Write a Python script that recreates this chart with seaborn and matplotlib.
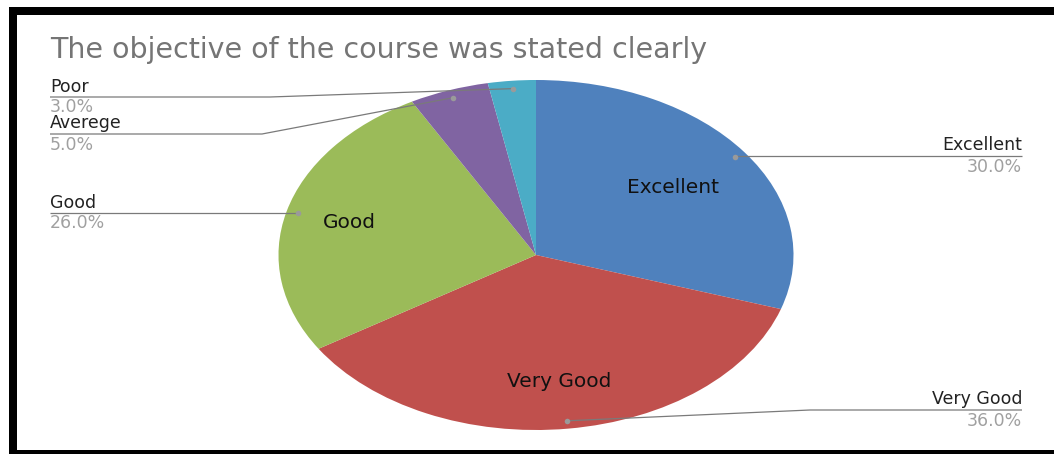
import numpy as np
import matplotlib
matplotlib.use("Agg")
import matplotlib.pyplot as plt
from matplotlib.patches import Rectangle
import seaborn as sns

# Survey answers and their shares (%)
categories = ["Excellent", "Very Good", "Good", "Averege", "Poor"]
shares = [30.0, 36.0, 26.0, 5.0, 3.0]
inside_labels = ["Excellent", "Very Good", "Good"]
title = "The objective of the course was stated clearly"

sns.set_theme(style="white")
plt.rcParams["font.family"] = ["DejaVu Sans"]
colors = sns.color_palette(["#4F81BD", "#C0504D", "#9BBB59", "#8064A2", "#4BACC6"])

W, H = 1054, 454
fig = plt.figure(figsize=(W / 100, H / 100), dpi=100)
fig.patch.set_facecolor("white")

# Pie geometry in pixels (stretched ellipse)
cx, cy, rx, ry = 536, 255, 257.5, 175
pie_ax = fig.add_axes([(cx - rx) / W, (H - (cy + ry)) / H, 2 * rx / W, 2 * ry / H])
pie_ax.pie(shares, colors=colors, startangle=90, counterclock=False,
           wedgeprops=dict(linewidth=0))
pie_ax.set_aspect("auto")
pie_ax.set_xlim(-1, 1)
pie_ax.set_ylim(-1, 1)
pie_ax.axis("off")

# Overlay in pixel coordinates for frame, title and callouts
ov = fig.add_axes([0, 0, 1, 1], zorder=5)
ov.set_xlim(0, W)
ov.set_ylim(H, 0)
ov.axis("off")
ov.patch.set_alpha(0)

# Black frame
ov.add_patch(Rectangle((9, 7), 8, H - 7, color="black", lw=0))
ov.add_patch(Rectangle((9, 7), W - 9, 8, color="black", lw=0))
ov.add_patch(Rectangle((9, 450), W - 9, 4, color="black", lw=0))

ov.text(50, 50, title, fontsize=20.5, color="#757575", ha="left", va="center")

total = sum(shares)
cum = np.cumsum([0] + shares[:-1])
mid = {c: np.deg2rad(360 * (s0 + v / 2) / total) for c, s0, v in zip(categories, cum, shares)}


def on_pie(cat, f):
    t = mid[cat]
    return cx + f * rx * np.sin(t), cy - f * ry * np.cos(t)


# Labels inside the large slices
inside_dist = {"Excellent": 0.66, "Very Good": 0.73, "Good": 0.75}
for cat in inside_labels:
    x, y = on_pie(cat, inside_dist[cat])
    ov.text(x, y, cat, fontsize=14.5, color="#111111", ha="center", va="center")

# Callout layout: side, text anchor x, line y, elbow x
callouts = {
    "Excellent": ("right", 1022, 156, None),
    "Very Good": ("right", 1022, 410, 810),
    "Good": ("left", 50, 213, None),
    "Averege": ("left", 50, 134, 262),
    "Poor": ("left", 50, 97, 270),
}
for cat, v in zip(categories, shares):
    side, tx, ly, ex = callouts[cat]
    dx, dy = on_pie(cat, 0.955)
    xs, ys = [dx], [dy]
    if ex is not None:
        xs.append(ex)
        ys.append(ly)
    else:
        ys[0] = ly
    xs.append(tx)
    ys.append(ly)
    ov.plot(xs, ys, color="#7a7a7a", lw=0.9, solid_capstyle="butt")
    ov.plot([dx], [dy], "o", color="#9a9a9a", ms=4, mec="none")
    ha = "right" if side == "right" else "left"
    ov.text(tx, ly - 1.5, cat, fontsize=12.5, color="#222222", ha=ha, va="bottom")
    ov.text(tx, ly + 1.5, f"{v:.1f}%", fontsize=12.5, color="#a0a0a0", ha=ha, va="top")

fig.savefig("out.png", dpi=100, facecolor="white")
